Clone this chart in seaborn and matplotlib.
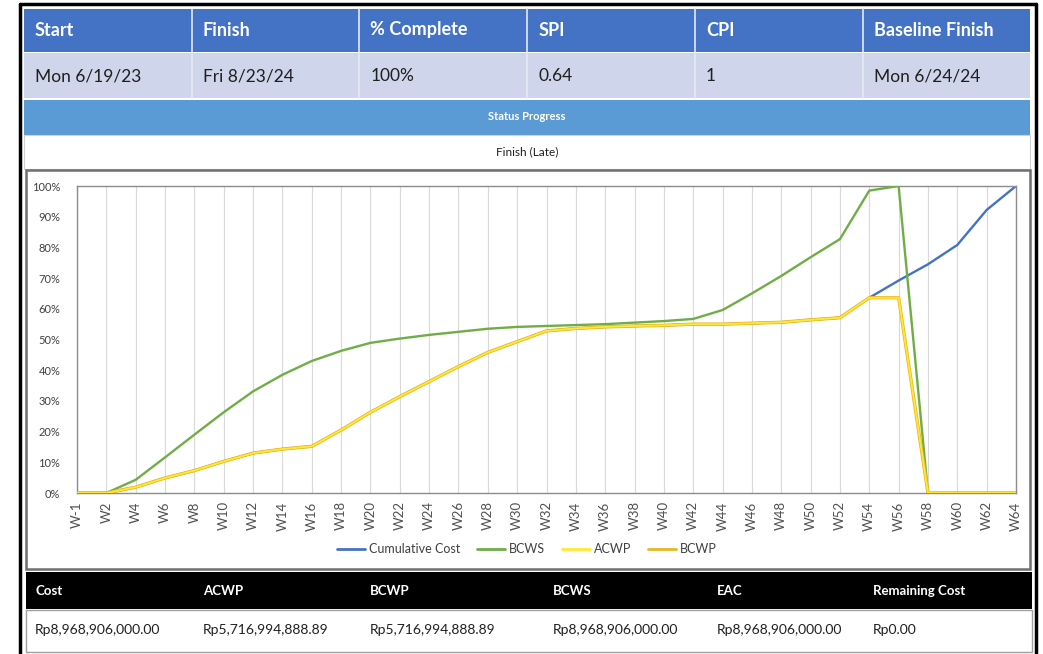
import matplotlib
matplotlib.use("Agg")
import matplotlib.pyplot as plt
from matplotlib.patches import Rectangle
from matplotlib.lines import Line2D
import seaborn as sns
import pandas as pd

sns.set_theme(style="white")
plt.rcParams['font.family'] = ['Lato', 'DejaVu Sans']

# ---------------- data ----------------
weeks = ["W-1"] + [f"W{i}" for i in range(2, 65, 2)]
bcws = [0, 0, 4.3, 11.6, 19.0, 26.3, 33.1, 38.5, 43.0, 46.3,
        48.9, 50.3, 51.5, 52.5, 53.5, 54.1, 54.4, 54.7, 55.0, 55.5, 56.0,
        56.7, 59.6, 65.0, 70.7, 76.8, 82.7, 98.5, 100, 0, 0, 0, 0]
bcwp = [0, 0, 1.9, 4.9, 7.3, 10.3, 13.0, 14.3, 15.2, 20.5,
        26.3, 31.4, 36.3, 41.2, 45.8, 49.3, 52.8, 53.6, 54.1, 54.4, 54.6,
        55.0, 55.0, 55.3, 55.6, 56.4, 57.1, 63.6, 63.6, 0, 0, 0, 0]
acwp = [0, 0, 1.9, 4.9, 7.3, 10.3, 13.0, 14.3, 15.2, 20.5,
        26.3, 31.4, 36.3, 41.2, 45.8, 49.3, 52.8, 53.6, 54.1, 54.4, 54.6,
        55.0, 55.0, 55.3, 55.6, 56.4, 57.1, 63.6, 63.6, 0, 0, 0, 0]
cumulative_cost = [0, 0, 1.9, 4.9, 7.3, 10.3, 13.0, 14.3, 15.2, 20.5,
                   26.3, 31.4, 36.3, 41.2, 45.8, 49.3, 52.8, 53.6, 54.1, 54.4, 54.6,
                   55.0, 55.0, 55.3, 55.6, 56.4, 57.1, 63.6, 69.2, 74.5, 80.8, 92.2, 100]
y_ticks = list(range(0, 101, 10))

header_labels = ["Start", "Finish", "% Complete", "SPI", "CPI", "Baseline Finish"]
header_values = ["Mon 6/19/23", "Fri 8/23/24", "100%", "0.64", "1", "Mon 6/24/24"]
cost_labels = ["Cost", "ACWP", "BCWP", "BCWS", "EAC", "Remaining Cost"]
cost_values = ["Rp8,968,906,000.00", "Rp5,716,994,888.89", "Rp5,716,994,888.89",
               "Rp8,968,906,000.00", "Rp8,968,906,000.00", "Rp0.00"]
status_title = "Status Progress"
status_text = "Finish (Late)"

series_names = ["Cumulative Cost", "BCWS", "ACWP", "BCWP"]
series_data = [cumulative_cost, bcws, acwp, bcwp]
colors = {"Cumulative Cost": "#4472C4", "BCWS": "#70AD47", "ACWP": "#FFE933", "BCWP": "#E8B628"}
widths = {"Cumulative Cost": 1.7, "BCWS": 1.7, "ACWP": 1.3, "BCWP": 2.4}
zorders = {"Cumulative Cost": 2, "BCWS": 3, "ACWP": 5, "BCWP": 4}

# ---------------- figure ----------------
W, H = 1043, 654
fig = plt.figure(figsize=(W / 100, H / 100), dpi=100)
fig.patch.set_facecolor("white")

bg = fig.add_axes([0, 0, 1, 1])
bg.set_xlim(0, W)
bg.set_ylim(H, 0)
bg.axis("off")

def rect(x0, y0, x1, y1, fc, ec="none", lw=0, z=1):
    bg.add_patch(Rectangle((x0, y0), x1 - x0, y1 - y0, facecolor=fc, edgecolor=ec, linewidth=lw, zorder=z))

# outer border
bg.plot([20, 20], [4, H + 5], color="black", lw=2.5, zorder=6)
bg.plot([20, 1036], [4, 4], color="black", lw=2.5, zorder=6)
bg.plot([1036, 1036], [4, H + 5], color="black", lw=2.5, zorder=6)

# header table
col_x = [24 + i * 167.7 for i in range(7)]
rect(24, 9, 1030, 52, "#4472C4")
rect(24, 53, 1030, 98, "#CFD5EA")
for cx in col_x[1:-1]:
    bg.plot([cx, cx], [9, 98], color="#E6EAF5", lw=1.2, zorder=2)
for i in range(6):
    bg.text(col_x[i] + 11, 30, header_labels[i], color="white", fontsize=13,
            fontweight="bold", va="center", ha="left", zorder=3)
    bg.text(col_x[i] + 11, 76, header_values[i], color="#1F1F1F", fontsize=12.5,
            va="center", ha="left", zorder=3)

# status progress
rect(24, 100, 1030, 135, "#5B9BD5")
bg.text(527, 117, status_title, color="white", fontsize=8, fontweight="bold",
        ha="center", va="center", zorder=3)
rect(24, 135, 1030, 169, "white", ec="#D0D0D0", lw=0.8)
bg.text(527, 152, status_text, color="#1F1F1F", fontsize=8.5, ha="center", va="center", zorder=3)

# chart box
rect(26, 170, 1030, 569, "white", ec="#6F6F6F", lw=1.8)

# cost table
rect(26, 572, 1032, 609, "black")
rect(26, 610, 1032, 652, "white", ec="#A0A0A0", lw=1.0)
cost_x = [35, 203, 370, 553, 717, 873]
for i in range(6):
    bg.text(cost_x[i], 591, cost_labels[i], color="white", fontsize=9.5,
            fontweight="bold", ha="left", va="center", zorder=3)
    bg.text(cost_x[i], 630, cost_values[i], color="#1F1F1F", fontsize=10,
            ha="left", va="center", zorder=3)

# ---------------- chart ----------------
x0, x1 = 77, 1016
y0, y1 = 186, 493
ax = fig.add_axes([x0 / W, (H - y1) / H, (x1 - x0) / W, (y1 - y0) / H])
ax.set_facecolor("white")

for name, vals in zip(series_names, series_data):
    df = pd.DataFrame({"week": weeks, "value": vals})
    sns.lineplot(data=df, x="week", y="value", ax=ax, color=colors[name],
                 linewidth=widths[name], sort=False, zorder=zorders[name], label=name)

ax.set_xlim(0, len(weeks) - 1)
ax.set_ylim(0, 100)
ax.set_yticks(y_ticks)
ax.set_yticklabels([f"{v}%" for v in y_ticks], fontsize=8, color="#404040")
ax.tick_params(axis="y", length=0, pad=12)
ax.set_xticks(range(len(weeks)))
ax.set_xticklabels(weeks, rotation=90, fontsize=9.5, color="#505050")
ax.tick_params(axis="x", length=0, pad=6)
ax.set_xlabel("")
ax.set_ylabel("")
ax.grid(axis="x", color="#D9D9D9", linewidth=0.8)
ax.grid(axis="y", visible=False)
ax.set_axisbelow(True)
for sp in ax.spines.values():
    sp.set_color("#8C8C8C")
    sp.set_linewidth(1.0)

leg = ax.get_legend()
if leg is not None:
    leg.remove()
handles = [Line2D([0], [0], color=colors[n], lw=2) for n in series_names]
fig.legend(handles, series_names, loc="center", bbox_to_anchor=(527 / W, (H - 549) / H),
           ncol=4, frameon=False, fontsize=9, handlelength=2.2, handletextpad=0.3,
           columnspacing=1.4, labelcolor="#404040")

fig.savefig("out.png", dpi=100, facecolor="white")
